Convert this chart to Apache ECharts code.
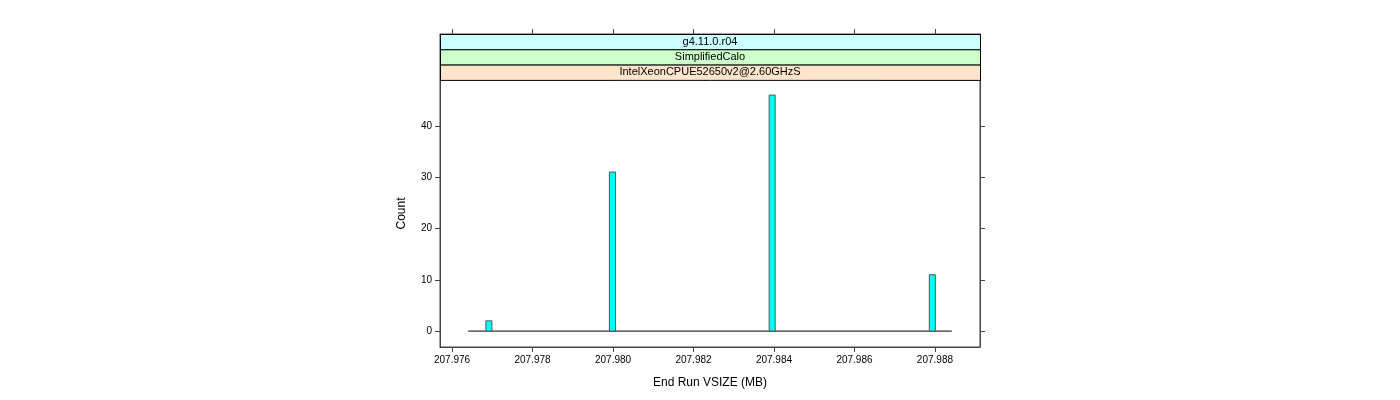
<!DOCTYPE html>
<html><head><meta charset="utf-8">
<script src="https://cdn.jsdelivr.net/npm/echarts@6/dist/echarts.min.js"></script>
<style>html,body{margin:0;padding:0;background:#fff}#c{width:1400px;height:400px}</style>
</head><body><div id="c"></div>
<script>
// Data
const binLeft = [207.97684, 207.97991, 207.98388, 207.98786];
const binWidth = 0.00015;
const counts = [2, 31, 46, 11];
const histRange = [207.97640, 207.98842];
const xTicks = [207.976, 207.978, 207.980, 207.982, 207.984, 207.986, 207.988];
const yTicks = [0, 10, 20, 30, 40];
const strips = ["g4.11.0.r04", "SimplifiedCalo", "IntelXeonCPUE52650v2@2.60GHzS"];
const stripColors = ["#ccffff", "#ccffcc", "#ffe5cc"];

const FONT = "Liberation Sans, Arial, sans-serif";
const chart = echarts.init(document.getElementById('c'));
const gl = 440, gr = 980, gt = 34, gb = 347, stripH = 15.3;

const graphics = [];
strips.forEach((s, i) => {
  graphics.push({
    type: 'rect', left: gl, top: gt + i * stripH,
    shape: {width: gr - gl, height: stripH},
    style: {fill: stripColors[i], stroke: '#000', lineWidth: 1}, z: 10
  });
  graphics.push({
    type: 'text', x: (gl + gr) / 2, y: gt + i * stripH + stripH / 2,
    style: {text: s, fill: '#000', font: '11px ' + FONT, textAlign: 'center', textVerticalAlign: 'middle'}, z: 11
  });
});

const barData = binLeft.map((l, i) => [l, l + binWidth, counts[i]]);
const axLine = {show: true, onZero: false, lineStyle: {color: '#444'}};

chart.setOption({
  animation: false,
  backgroundColor: '#fff',
  grid: {left: gl, right: 1400 - gr, top: gt, bottom: 400 - gb, show: true, borderColor: '#444', borderWidth: 1, containLabel: false},
  xAxis: [{
    type: 'value', position: 'bottom', min: 207.97570, max: 207.98912,
    axisLine: axLine,
    axisTick: {show: true, inside: false, length: 5, lineStyle: {color: '#444'}, customValues: xTicks},
    axisLabel: {show: true, color: '#000', fontSize: 10, fontFamily: FONT, margin: 8, customValues: xTicks, formatter: v => v.toFixed(3)},
    splitLine: {show: false},
    name: 'End Run VSIZE (MB)', nameLocation: 'middle', nameGap: 30,
    nameTextStyle: {color: '#000', fontSize: 12, fontFamily: FONT}
  }, {
    type: 'value', position: 'top', min: 207.97570, max: 207.98912,
    axisLine: axLine,
    axisTick: {show: true, inside: false, length: 5, lineStyle: {color: '#444'}, customValues: xTicks},
    axisLabel: {show: false}, splitLine: {show: false}
  }],
  yAxis: [{
    type: 'value', position: 'left', min: -3.1, max: 57.9,
    axisLine: axLine,
    axisTick: {show: true, inside: false, length: 5, lineStyle: {color: '#444'}, customValues: yTicks},
    axisLabel: {show: true, color: '#000', fontSize: 10, fontFamily: FONT, margin: 8, customValues: yTicks},
    splitLine: {show: false},
    name: 'Count', nameLocation: 'middle', nameGap: 32, nameRotate: 90,
    nameTextStyle: {color: '#000', fontSize: 12, fontFamily: FONT, padding: [0, 0, 0, -46]}
  }, {
    type: 'value', position: 'right', min: -3.1, max: 57.9,
    axisLine: axLine,
    axisTick: {show: true, inside: false, length: 5, lineStyle: {color: '#444'}, customValues: yTicks},
    axisLabel: {show: false}, splitLine: {show: false}
  }],
  series: [{
    type: 'line', xAxisIndex: 0, yAxisIndex: 0,
    data: [[histRange[0], 0], [histRange[1], 0]],
    symbol: 'none', lineStyle: {color: '#000', width: 1}, z: 2
  }, {
    type: 'custom', xAxisIndex: 0, yAxisIndex: 0,
    data: barData,
    renderItem: (params, api) => {
      const p0 = api.coord([api.value(0), 0]);
      const p1 = api.coord([api.value(1), api.value(2)]);
      return {
        type: 'rect',
        shape: {x: p0[0], y: p1[1], width: p1[0] - p0[0], height: p0[1] - p1[1]},
        style: {fill: '#00ffff', stroke: '#555', lineWidth: 1}
      };
    }, z: 3
  }],
  graphic: graphics
});
</script>
</body></html>
